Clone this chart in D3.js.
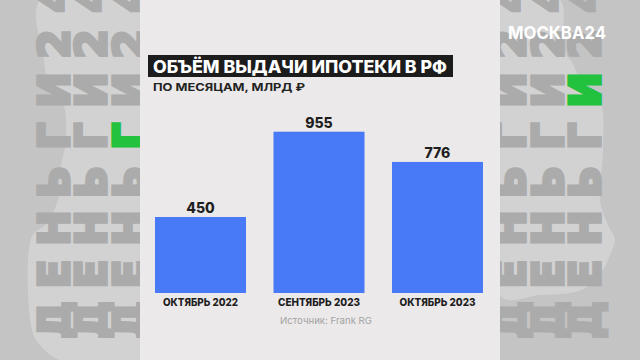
<!DOCTYPE html>
<html><head><meta charset="utf-8">
<script src="https://cdn.jsdelivr.net/npm/d3@7"></script>
<style>html,body{margin:0;padding:0;background:#c4c4c4;}svg{display:block;}</style>
</head><body>
<script>
const categories = ["ОКТЯБРЬ 2022", "СЕНТЯБРЬ 2023", "ОКТЯБРЬ 2023"];
const values = [450, 955, 776];
const title = "ОБЪЁМ ВЫДАЧИ ИПОТЕКИ В РФ";
const subtitle = "ПО МЕСЯЦАМ, МЛРД ₽";
const source = "Источник: Frank RG";
const logo = "МОСКВА24";
const decoWord = "ДЕНЬГИ24";

const W = 640, H = 360;
const svg = d3.select("body").append("svg").attr("width", W).attr("height", H);

// background
svg.append("rect").attr("width", W).attr("height", H).attr("fill", "#c4c4c4");
const blobL = [[40,0],[140,0],[140,360],[60,360],[40,345],[32,330],[32,236],[45,225],[58,200],[60,170],[66,140],[62,100],[50,90],[44,60]];
const blobR = [[500,0],[560,0],[563,50],[572,62],[578,75],[600,100],[603,150],[600,200],[608,225],[615,240],[610,255],[603,270],[590,285],[575,292],[540,295],[500,296]];
const line = d3.line().curve(d3.curveCatmullRomClosed);
svg.append("path").attr("d", line(blobL)).attr("fill", "#d2d2d2");
svg.append("path").attr("d", line(blobR)).attr("fill", "#d2d2d2");

// decorative rotated letters
const colsX = [54, 91, 129, 510, 548, 585];
const rowY0 = 320, rowStep = 46;
const deco = svg.append("g").attr("font-family", "DejaVu Sans").attr("font-weight", "bold").attr("font-size", 42);
colsX.forEach((cx, ci) => {
  decoWord.split("").forEach((ch, i) => {
    const cy = rowY0 - i * rowStep;
    const green = (ci === 2 && ch === "Г") || (ci === 5 && ch === "И");
    const col = green ? "#22c13e" : "#ababab";
    deco.append("text")
      .attr("transform", `translate(${cx},${cy}) rotate(-90)`)
      .attr("text-anchor", "middle").attr("dy", "0.36em")
      .attr("fill", col).attr("stroke", col).attr("stroke-width", 3.5).attr("stroke-linejoin", "miter")
      .text(ch);
  });
});

// panel
svg.append("rect").attr("x", 140).attr("y", 0).attr("width", 360).attr("height", H).attr("fill", "#ece9ea");

// logo
svg.append("text").attr("x", 508).attr("y", 39).attr("fill", "#ffffff")
  .attr("font-family", "Inter").attr("font-weight", 700).attr("font-size", 18)
  .attr("textLength", 98).attr("lengthAdjust", "spacingAndGlyphs").text(logo);

// title
svg.append("rect").attr("x", 148).attr("y", 55).attr("width", 305).attr("height", 22).attr("fill", "#1c1c1c");
svg.append("text").attr("x", 153).attr("y", 73).attr("fill", "#ffffff")
  .attr("font-family", "Inter").attr("font-weight", 800).attr("font-size", 17)
  .attr("textLength", 294).attr("lengthAdjust", "spacingAndGlyphs").text(title);
svg.append("text").attr("x", 153).attr("y", 90.5).attr("fill", "#222222")
  .attr("font-family", "Inter").attr("font-weight", 700).attr("font-size", 10.5)
  .attr("textLength", 152).attr("lengthAdjust", "spacingAndGlyphs").text(subtitle);

// scales
const x = d3.scaleBand().domain(categories).range([155, 483]).paddingInner(0.232).paddingOuter(0);
const y = d3.scaleLinear().domain([0, 955]).range([293, 131.7]);

const g = svg.append("g");
g.selectAll("rect.bar").data(values).join("rect").attr("class", "bar")
  .attr("x", (d, i) => x(categories[i])).attr("width", x.bandwidth())
  .attr("y", d => y(d)).attr("height", d => y(0) - y(d))
  .attr("fill", "#4879f7");

g.selectAll("text.val").data(values).join("text").attr("class", "val")
  .attr("x", (d, i) => x(categories[i]) + x.bandwidth() / 2)
  .attr("y", d => y(d) - 4)
  .attr("text-anchor", "middle").attr("fill", "#1e1e1e")
  .attr("font-family", "Inter").attr("font-weight", 800).attr("font-size", 14)
  .text(d => d);

// category axis labels
const catW = [75, 82, 76];
const xAxis = d3.axisBottom(x).tickSize(0).tickPadding(0);
const ax = svg.append("g").attr("transform", "translate(0,293)").call(xAxis);
ax.select(".domain").remove();
ax.selectAll("text")
  .attr("y", 12.5).attr("dy", null)
  .attr("fill", "#1e1e1e")
  .attr("font-family", "Inter").attr("font-weight", 800).attr("font-size", 10.5)
  .attr("textLength", (d, i) => catW[i]).attr("lengthAdjust", "spacingAndGlyphs");

// source
svg.append("text").attr("x", 326).attr("y", 324).attr("text-anchor", "middle")
  .attr("fill", "#a3a3a3").attr("font-family", "Inter").attr("font-weight", 400).attr("font-size", 9.5)
  .attr("textLength", 92).attr("lengthAdjust", "spacingAndGlyphs").text(source);
</script>
</body></html>
